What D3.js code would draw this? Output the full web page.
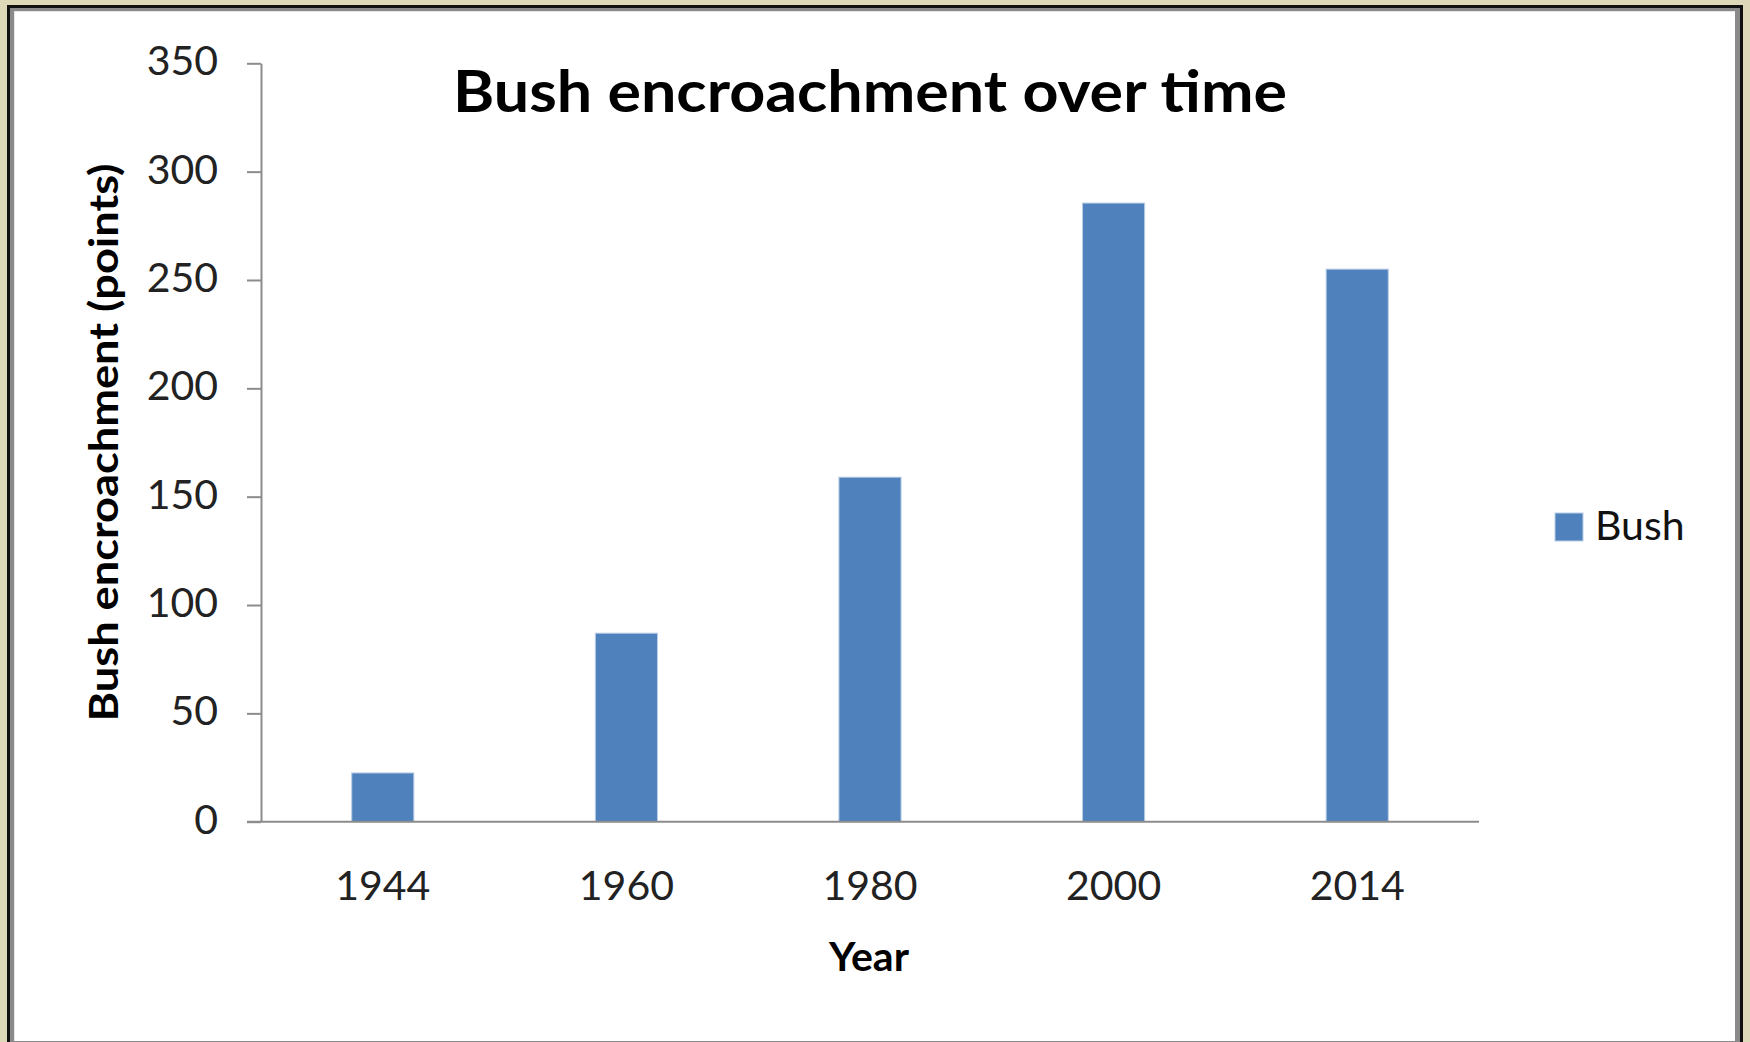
<!DOCTYPE html>
<html>
<head>
<meta charset="utf-8">
<script src="https://cdn.jsdelivr.net/npm/d3@7"></script>
<style>
  html, body { margin: 0; padding: 0; background: #ddd8b8; }
  svg { display: block; }
  text { font-family: Lato, "Open Sans", sans-serif; }
</style>
</head>
<body>
<svg id="chart" width="1750" height="1042"></svg>
<script>
// Survey data: bush encroachment points per survey year
const years = ["1944", "1960", "1980", "2000", "2014"];
const bushPoints = [22.5, 87, 159, 285.5, 255];
const yTicks = [0, 50, 100, 150, 200, 250, 300, 350];
const seriesName = "Bush";

const W = 1750, H = 1042;
const svg = d3.select("#chart");

// Framed panel: beige surround, black rule, grey bevel, white body
svg.append("rect").attr("x", 0).attr("y", 0).attr("width", W).attr("height", H).attr("fill", "#ddd8b8");
svg.append("rect").attr("x", 7).attr("y", 5).attr("width", 1736).attr("height", 1060).attr("fill", "#111");
svg.append("rect").attr("x", 10).attr("y", 8).attr("width", 1730).attr("height", 1060).attr("fill", "#8a8a8a");
svg.append("rect").attr("x", 14).attr("y", 11).attr("width", 1721).attr("height", 1030).attr("fill", "#e6e6e6");
svg.append("rect").attr("x", 15).attr("y", 12).attr("width", 1720).attr("height", 1029).attr("fill", "#ffffff");

const plot = { left: 261, right: 1479, top: 63.3, bottom: 821.7 };

const x = d3.scaleBand()
  .domain(years)
  .range([plot.left, plot.right])
  .paddingInner(0.745)
  .paddingOuter(0.3725);

const y = d3.scaleLinear()
  .domain([0, 350])
  .range([plot.bottom, plot.top]);

// Bars
svg.append("g").selectAll("rect")
  .data(years.map((yr, i) => ({ yr, v: bushPoints[i] })))
  .join("rect")
  .attr("x", d => x(d.yr))
  .attr("y", d => y(d.v))
  .attr("width", x.bandwidth())
  .attr("height", d => y(0) - y(d.v))
  .attr("fill", "#4f81bd")
  .attr("stroke", "#b9cde5")
  .attr("stroke-width", 1);

// Y axis
const yAxis = svg.append("g")
  .attr("transform", `translate(${plot.left},0)`)
  .call(d3.axisLeft(y).tickValues(yTicks).tickSize(14).tickPadding(29).tickSizeOuter(0));
yAxis.select(".domain").attr("stroke", "#8c8c8c").attr("stroke-width", 2);
yAxis.selectAll(".tick line").attr("stroke", "#8c8c8c").attr("stroke-width", 2);
yAxis.selectAll(".tick text")
  .attr("font-size", 41)
  .attr("fill", "#222")
  .attr("font-family", "Lato, sans-serif")
  .attr("dy", "0.28em");

// X axis baseline and labels
const xAxis = svg.append("g")
  .attr("transform", `translate(0,${plot.bottom})`)
  .call(d3.axisBottom(x).tickSize(0).tickPadding(0));
xAxis.select(".domain").remove();
svg.append("line")
  .attr("x1", plot.left - 14).attr("x2", plot.right)
  .attr("y1", plot.bottom).attr("y2", plot.bottom)
  .attr("stroke", "#8c8c8c").attr("stroke-width", 2);
xAxis.selectAll(".tick text")
  .attr("font-size", 41)
  .attr("fill", "#222")
  .attr("font-family", "Lato, sans-serif")
  .attr("y", 78)
  .attr("dy", 0);

// Title
svg.append("text")
  .attr("x", (plot.left + plot.right) / 2)
  .attr("y", 112)
  .attr("text-anchor", "middle")
  .attr("font-size", 57)
  .attr("font-weight", "bold")
  .attr("fill", "#000")
  .attr("textLength", 834)
  .attr("lengthAdjust", "spacingAndGlyphs")
  .text("Bush encroachment over time");

// Axis titles
svg.append("text")
  .attr("transform", `translate(118,${(plot.top + plot.bottom) / 2}) rotate(-90)`)
  .attr("text-anchor", "middle")
  .attr("font-size", 41)
  .attr("font-weight", "bold")
  .attr("fill", "#000")
  .attr("textLength", 558)
  .attr("lengthAdjust", "spacingAndGlyphs")
  .text("Bush encroachment (points)");

svg.append("text")
  .attr("x", 869)
  .attr("y", 971)
  .attr("text-anchor", "middle")
  .attr("font-size", 41)
  .attr("font-weight", "bold")
  .attr("fill", "#000")
  .text("Year");

// Legend
const legend = svg.append("g").attr("transform", "translate(1555,513)");
legend.append("rect")
  .attr("width", 28).attr("height", 28)
  .attr("fill", "#4f81bd")
  .attr("stroke", "#b9cde5").attr("stroke-width", 1);
legend.append("text")
  .attr("x", 40).attr("y", 27)
  .attr("font-size", 41)
  .attr("fill", "#111")
  .text(seriesName);
</script>
</body>
</html>
